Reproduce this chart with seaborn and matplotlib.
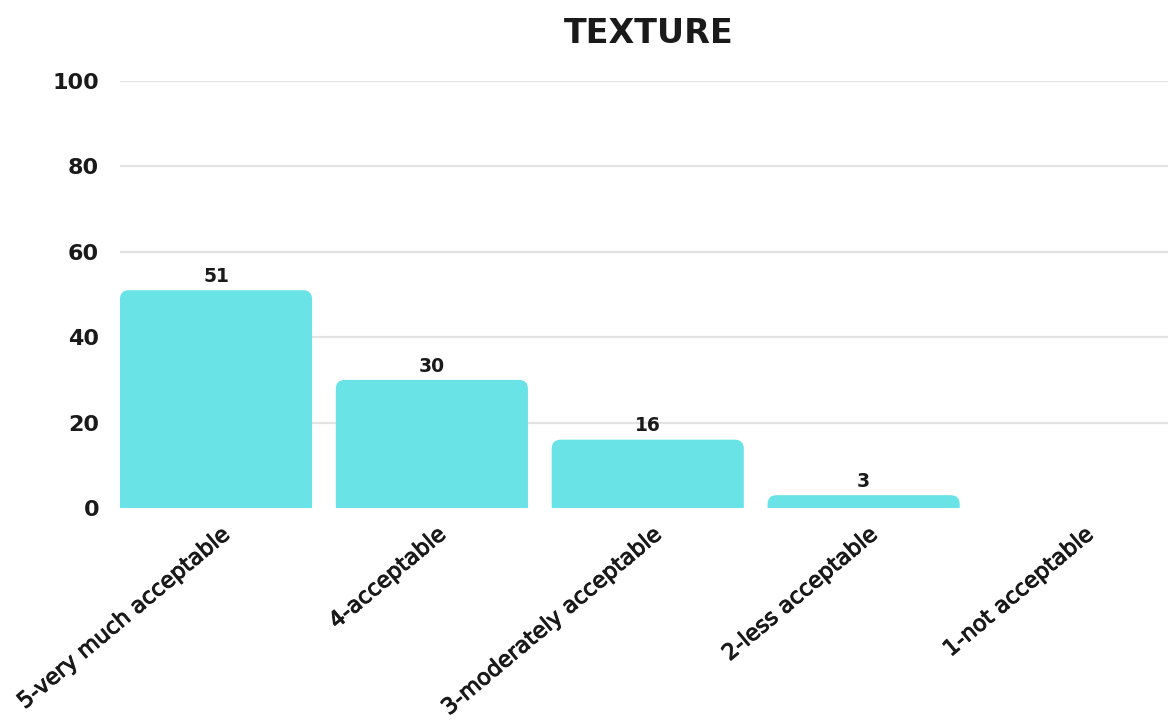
import matplotlib
matplotlib.use("Agg")
import matplotlib.pyplot as plt
import matplotlib.patheffects as pe
from matplotlib.patches import FancyBboxPatch
from matplotlib.transforms import offset_copy
import seaborn as sns
import pandas as pd

# Texture ratings
categories = ["5-very much acceptable", "4-acceptable", "3-moderately acceptable",
              "2-less acceptable", "1-not acceptable"]
counts = [51, 30, 16, 3, 0]
yticks = [0, 20, 40, 60, 80, 100]
title = "TEXTURE"

bar_color = "#6ae3e6"
grid_color = "#e3e3e3"
text_color = "#1a1a1a"

sns.set_theme(style="white")
plt.rcParams["font.family"] = ["DejaVu Sans"]

df = pd.DataFrame({"rating": categories, "count": counts})

fig = plt.figure(figsize=(11.68, 7.26), dpi=100)
ax = fig.add_axes([0.1027, 0.3003, 0.8973, 0.5882])

sns.barplot(data=df, x="rating", y="count", color=bar_color, width=0.89,
            saturation=1, ax=ax, zorder=3)

ax.set_xlim(-0.445, 4.41)
ax.set_ylim(0, 100)
ax.set_yticks(yticks)
ax.set_yticklabels([str(v) for v in yticks], fontsize=16, fontweight="bold",
                   color=text_color)
ax.tick_params(axis="y", length=0, pad=15)
ax.tick_params(axis="x", length=0)

# horizontal guide lines (none at zero)
for v in yticks[1:]:
    ax.axhline(v, color=grid_color, lw=1.6, zorder=0)

for s in ax.spines.values():
    s.set_visible(False)
ax.set_xlabel("")
ax.set_ylabel("")

# replace square bars with top-rounded ones
fig.canvas.draw()
px_per_x = ax.transData.transform((1, 0))[0] - ax.transData.transform((0, 0))[0]
px_per_y = ax.transData.transform((0, 1))[1] - ax.transData.transform((0, 0))[1]
radius_px = 9
aspect = px_per_x / px_per_y
for p in list(ax.patches):
    x, w, h = p.get_x(), p.get_width(), p.get_height()
    p.remove()
    if h <= 0:
        continue
    r = radius_px / px_per_x
    ry = radius_px / px_per_y
    rb = FancyBboxPatch((x, -ry), w, h + ry,
                        boxstyle=f"round,pad=0,rounding_size={r}",
                        mutation_aspect=aspect,
                        facecolor=bar_color, edgecolor="none", zorder=3,
                        clip_on=True)
    ax.add_patch(rb)

# value labels
for i, v in enumerate(counts):
    if v > 0:
        ax.annotate(str(v), (i, v), xytext=(0, 3), textcoords="offset points",
                    ha="center", va="bottom", fontsize=13.5, fontweight="bold",
                    color=text_color)

# rotated category labels, slightly heavier than regular weight
ax.set_xticks(range(len(categories)))
ax.set_xticklabels([])
medium = [pe.withStroke(linewidth=0.7, foreground=text_color)]
for i, lab in enumerate(categories):
    tr = offset_copy(ax.get_xaxis_transform(), fig=fig, x=5, y=-16, units="dots")
    ax.text(i, 0, lab, transform=tr, rotation=40, rotation_mode="anchor",
            ha="right", va="top", fontsize=16, color=text_color,
            path_effects=medium)

fig.text(0.5557, 0.9545, title, ha="center", va="center", fontsize=24,
         fontweight="bold", color=text_color)

fig.savefig("out.png", dpi=100, facecolor="white")
